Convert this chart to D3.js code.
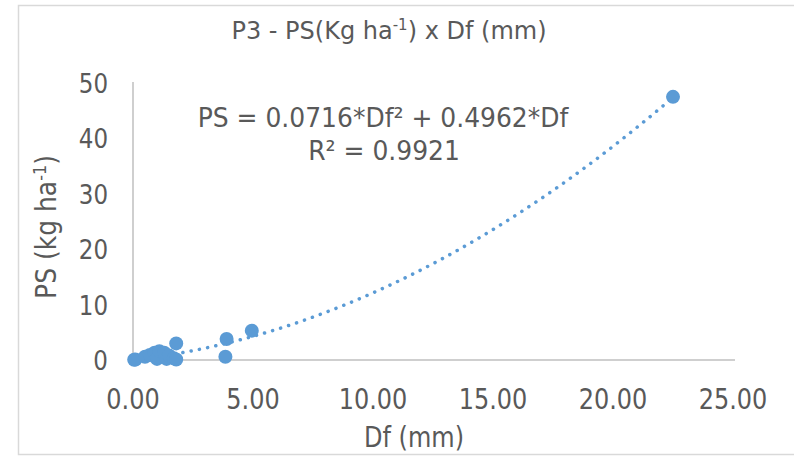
<!DOCTYPE html>
<html>
<head>
<meta charset="utf-8">
<script src="https://cdn.jsdelivr.net/npm/d3@7"></script>
<style>
  body { margin: 0; background: #fff; }
  text { font-family: "DejaVu Sans", Verdana, sans-serif; fill: #595959; }
</style>
</head>
<body>
<div id="chart"></div>
<script>
// Df (mm) and PS (kg ha-1)
var dfValues = [0.05, 0.1, 0.5, 0.7, 0.9, 1.0, 1.1, 1.3, 1.4, 1.5, 1.7, 1.8, 1.8, 3.85, 3.9, 4.95, 22.5];
var psValues = [0.05, 0.1, 0.6, 0.9, 1.3, 0.2, 1.6, 1.3, 0.2, 0.8, 0.3, 0.1, 3.0, 0.6, 3.8, 5.3, 47.5];
var xTicks = [0, 5, 10, 15, 20, 25];
var yTicks = [0, 10, 20, 30, 40, 50];
// polynomial trendline coefficients from the chart
var coefA = 0.0716, coefB = 0.4962;

var width = 794, height = 457;
var blue = "#5b9bd5";
var stretch = 1.15; // original font is narrower / taller than DejaVu

var svg = d3.select("#chart")
  .append("svg")
  .attr("width", width)
  .attr("height", height);

// chart area border
svg.append("rect")
  .attr("x", 18.5).attr("y", 5.5)
  .attr("width", 800).attr("height", 449)
  .attr("fill", "none")
  .attr("stroke", "#d9d9d9")
  .attr("stroke-width", 1.5);

var x = d3.scaleLinear().domain([0, 25]).range([133, 733]);
var y = d3.scaleLinear().domain([0, 50]).range([360, 83]);

// axis lines
svg.append("line")
  .attr("x1", x(0)).attr("x2", x(25) + 2)
  .attr("y1", y(0)).attr("y2", y(0))
  .attr("stroke", "#bfbfbf").attr("stroke-width", 1.5);
svg.append("line")
  .attr("x1", x(0)).attr("x2", x(0))
  .attr("y1", y(0)).attr("y2", y(50) - 1)
  .attr("stroke", "#bfbfbf").attr("stroke-width", 1.5);

// tick labels
svg.selectAll("text.xtick")
  .data(xTicks)
  .enter().append("text")
  .attr("class", "xtick")
  .attr("transform", d => "translate(" + x(d) + ",409) scale(1," + stretch + ")")
  .attr("text-anchor", "middle")
  .style("font-size", "24px")
  .text(d => d3.format(".2f")(d));

svg.selectAll("text.ytick")
  .data(yTicks)
  .enter().append("text")
  .attr("class", "ytick")
  .attr("transform", d => "translate(108," + (y(d) + 10) + ") scale(1," + stretch + ")")
  .attr("text-anchor", "end")
  .style("font-size", "23px")
  .text(d => d);

// title
var title = svg.append("text")
  .attr("x", 389).attr("y", 39)
  .attr("text-anchor", "middle")
  .style("font-size", "24px");
title.append("tspan").text("P3 - PS(Kg ha");
title.append("tspan").attr("dy", -9).style("font-size", "15px").text("-1");
title.append("tspan").attr("dy", 9).text(") x Df (mm)");

// axis titles
svg.append("text")
  .attr("transform", "translate(414,447) scale(1," + stretch + ")")
  .attr("text-anchor", "middle")
  .style("font-size", "24px")
  .text("Df (mm)");

var yLabel = svg.append("text")
  .attr("transform", "translate(56,227) rotate(-90) scale(1," + stretch + ")")
  .attr("text-anchor", "middle")
  .style("font-size", "25px");
yLabel.append("tspan").text("PS (kg ha");
yLabel.append("tspan").attr("dy", -9).style("font-size", "16px").text("-1");
yLabel.append("tspan").attr("dy", 9).text(")");

// trendline
var trend = d3.range(0, 22.5001, 0.1).map(function (d) {
  return [d, coefA * d * d + coefB * d];
});
svg.append("path")
  .datum(trend)
  .attr("d", d3.line().x(d => x(d[0])).y(d => y(d[1])))
  .attr("fill", "none")
  .attr("stroke", blue)
  .attr("stroke-width", 3.5)
  .attr("stroke-linecap", "round")
  .attr("stroke-dasharray", "0.1 8.3");

// points
svg.selectAll("circle")
  .data(dfValues.map((d, i) => [d, psValues[i]]))
  .enter().append("circle")
  .attr("cx", d => x(d[0]))
  .attr("cy", d => y(d[1]))
  .attr("r", 7)
  .attr("fill", blue);

// equation
svg.append("text")
  .attr("transform", "translate(383,127) scale(1,1.05)")
  .attr("text-anchor", "middle")
  .style("font-size", "25px")
  .text("PS = 0.0716*Df\u00b2 + 0.4962*Df");
svg.append("text")
  .attr("transform", "translate(384,160) scale(1,1.05)")
  .attr("text-anchor", "middle")
  .style("font-size", "25px")
  .text("R\u00b2 = 0.9921");
</script>
</body>
</html>
